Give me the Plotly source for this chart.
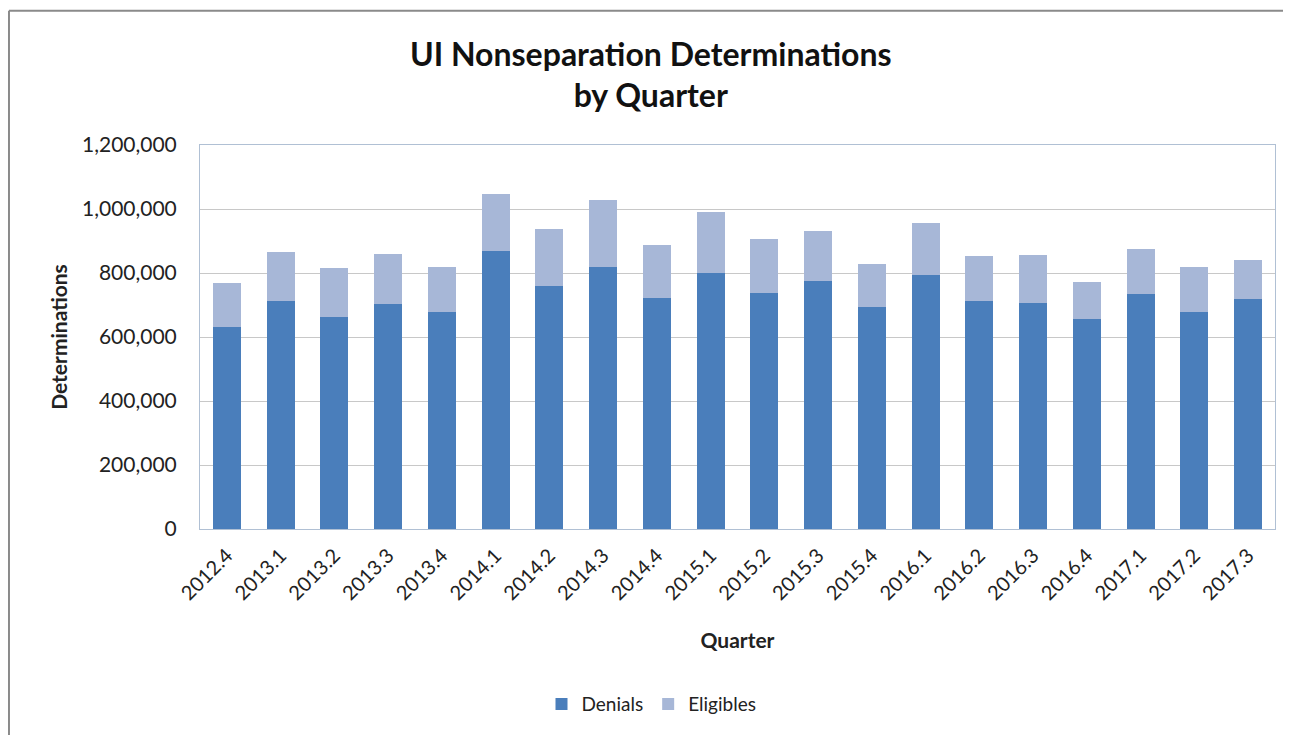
import plotly.graph_objects as go

quarters = ["2012.4", "2013.1", "2013.2", "2013.3", "2013.4", "2014.1", "2014.2", "2014.3",
            "2014.4", "2015.1", "2015.2", "2015.3", "2015.4", "2016.1", "2016.2", "2016.3",
            "2016.4", "2017.1", "2017.2", "2017.3"]
totals = [769700, 866600, 814600, 858300, 819800, 1045800, 936500, 1028100,
          887500, 990600, 906250, 932300, 828100, 955200, 854200, 856250,
          772900, 874000, 819800, 840600]
denials = [632200, 713500, 663500, 702100, 679200, 869800, 760400, 819800,
           722900, 801000, 738500, 775000, 694800, 793750, 712500, 707300,
           656250, 734400, 679200, 717700]
eligibles = [t - d for t, d in zip(totals, denials)]

FONT = "Lato"

fig = go.Figure()
fig.add_trace(go.Bar(x=quarters, y=denials, name="Denials", marker_color="#4A7EBB",
                     marker_line_width=0))
fig.add_trace(go.Bar(x=quarters, y=eligibles, name="Eligibles", marker_color="#A7B7D7",
                     marker_line_width=0))

fig.update_layout(
    barmode="stack",
    bargap=0.48,
    width=1283, height=727,
    margin=dict(l=192, r=16, t=137, b=204),
    paper_bgcolor="white", plot_bgcolor="white",
    font=dict(family=FONT, color="#222222"),
    title=dict(text="<b>UI Nonseparation Determinations<br>by Quarter</b>",
               x=0.501, xanchor="center", y=0.9209, yanchor="middle",
               font=dict(size=32, family=FONT, color="#111111")),
    showlegend=True,
    legend=dict(orientation="h", x=0.42, xanchor="center", y=-0.456, yanchor="middle",
                font=dict(size=19, family=FONT, color="#222222"), traceorder="normal",
                itemwidth=30),
    xaxis=dict(tickangle=-45, tickfont=dict(size=20), showline=True, linecolor="#B0C0D4",
               mirror=True, ticks="", ticklabelstandoff=6,
               title=dict(text="<b>Quarter</b>", font=dict(size=21), standoff=30)),
    yaxis=dict(range=[0, 1200000], dtick=200000, tickformat=",d", tickfont=dict(size=21),
               showgrid=True, gridcolor="#C8C8C8", gridwidth=1, showline=True,
               linecolor="#B0C0D4", mirror=True, zeroline=False, ticks="",
               ticklabelstandoff=18,
               title=dict(text="<b>Determinations</b>", font=dict(size=21), standoff=8)),
)

# chart frame: top and left edges
fig.add_shape(type="line", xref="paper", yref="paper",
              x0=-0.1777, x1=1.05, y0=1.3497, y1=1.3497,
              line=dict(color="#8A8A8A", width=2), layer="below")
fig.add_shape(type="line", xref="paper", yref="paper",
              x0=-0.1777, x1=-0.1777, y0=-0.6, y1=1.3497,
              line=dict(color="#8A8A8A", width=2), layer="below")

fig.write_html("out.html")
